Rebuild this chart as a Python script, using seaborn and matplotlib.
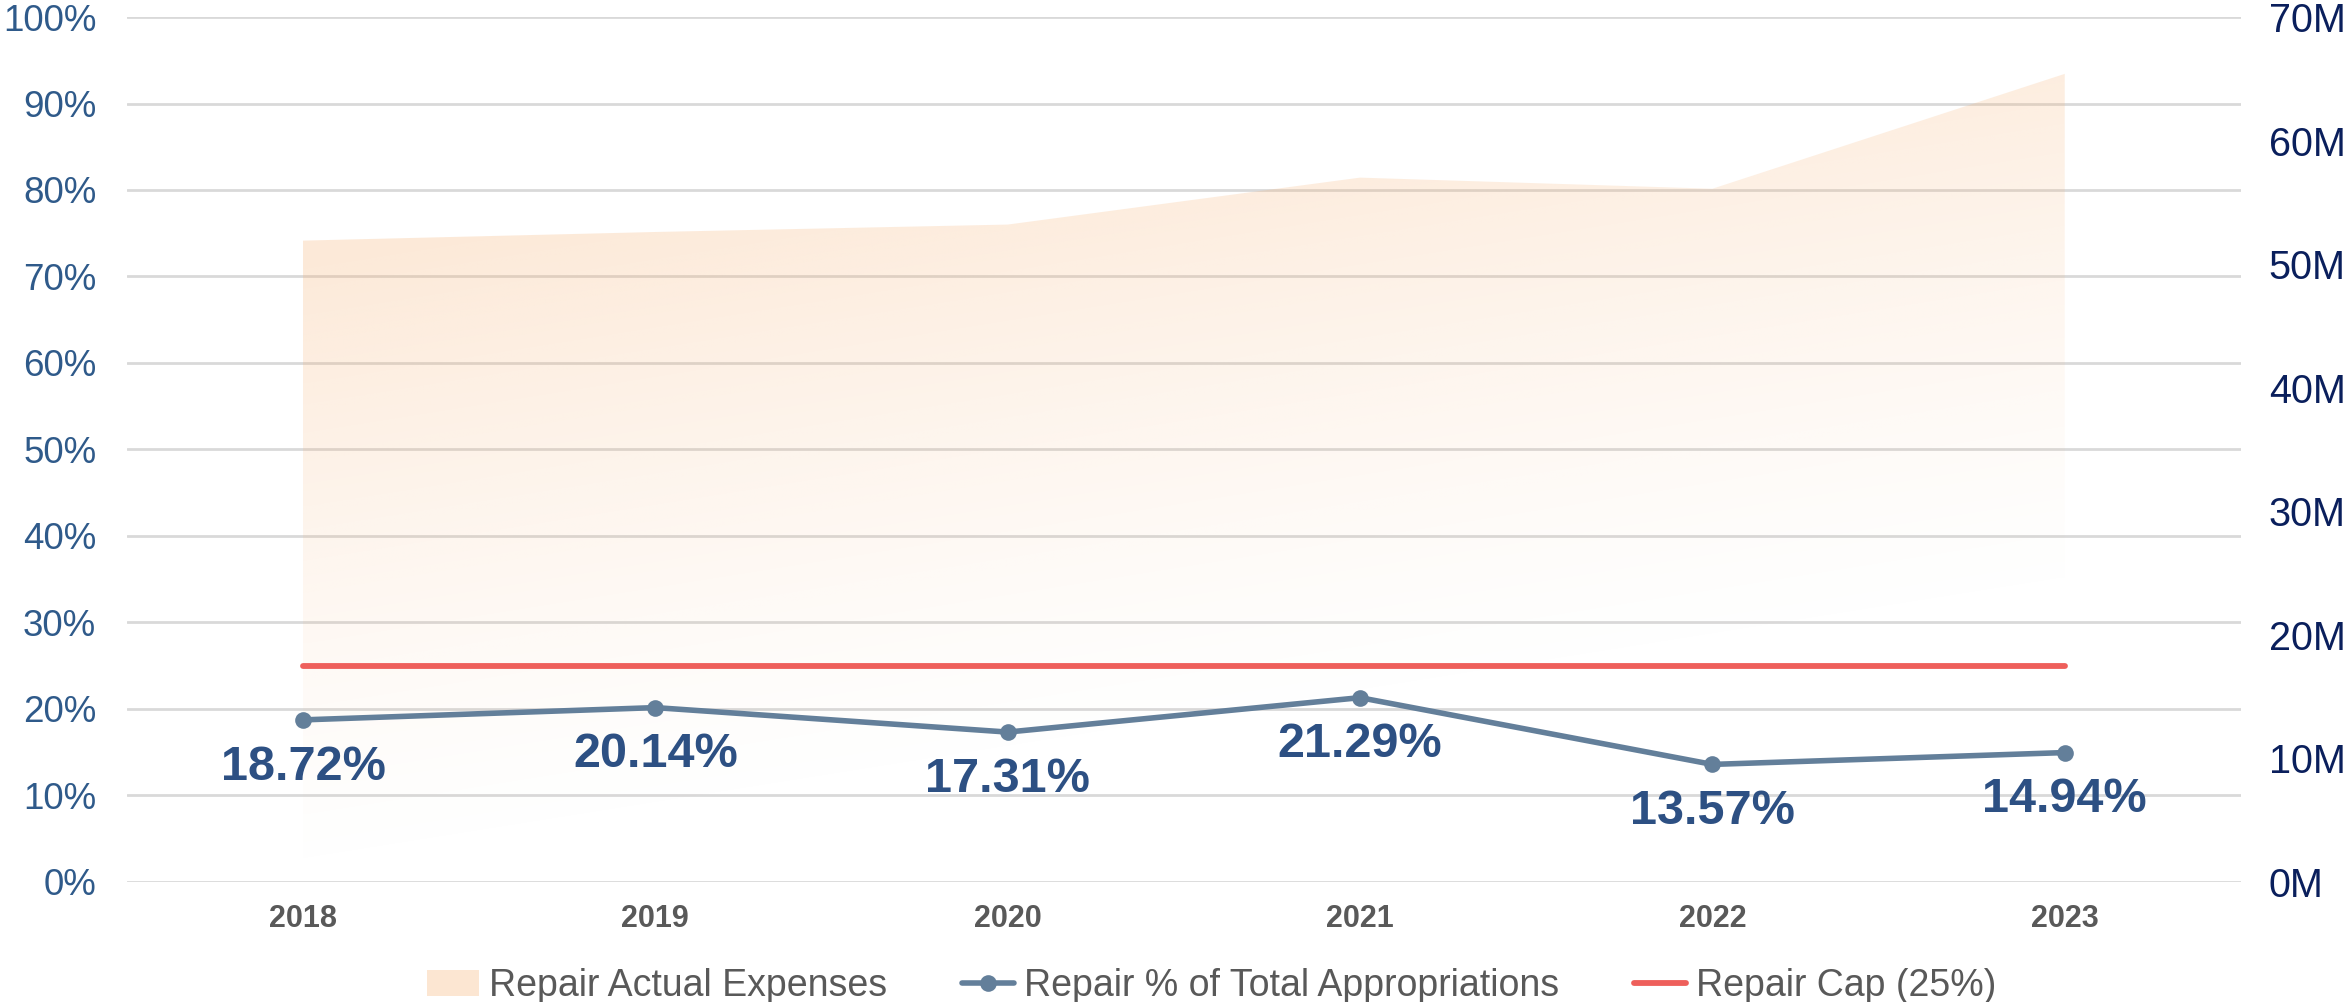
"""Repair expenses vs. share of total appropriations, 2018-2023."""

import numpy as np
import matplotlib.pyplot as plt
from matplotlib.lines import Line2D
from matplotlib.patches import Patch
import seaborn as sns

# data
years = [2018, 2019, 2020, 2021, 2022, 2023]
repair_expenses_m = [51.9, 52.6, 53.2, 57.0, 56.1, 65.4]
repair_pct = [18.72, 20.14, 17.31, 21.29, 13.57, 14.94]
repair_cap_pct = [25, 25, 25, 25, 25, 25]
pct_ticks = [0, 10, 20, 30, 40, 50, 60, 70, 80, 90, 100]
m_ticks = [0, 10, 20, 30, 40, 50, 60, 70]

sns.set_theme(style="white")
plt.rcParams['font.family'] = ['Liberation Sans', 'DejaVu Sans']

fig = plt.figure(figsize=(23.48, 10.02), dpi=100)
fig.subplots_adjust(left=0.054, right=0.9544, top=0.983, bottom=0.120)
ax = fig.add_subplot(111)          # grid + left labels
ax2 = ax.twinx()                   # expenses area (M)
ax3 = ax2.twinx()                  # percentage lines on top
ax2.yaxis.tick_right()
ax2.yaxis.set_label_position('right')

xlim = (2017.5, 2023.5)

# left axis: grid and percent labels
ax.set_xlim(*xlim)
ax.set_ylim(0, 100)
ax.set_yticks(pct_ticks)
ax.set_yticklabels([f"{t}%" for t in pct_ticks])
ax.tick_params(axis='y', colors='#2F5A8A', labelsize=26.5, length=0, pad=22)
ax.tick_params(axis='x', colors='#595959', labelsize=22, length=0, pad=16)
ax.set_xticks(years)
ax.set_xticklabels([str(y) for y in years], fontweight='bold')
ax.grid(axis='y', color='#D9D9D9', linewidth=2)
ax.grid(axis='x', visible=False)

# right axis: gradient area
ax2.set_ylim(0, 70)
ax2.set_xlim(*xlim)
poly = ax2.fill_between(years, repair_expenses_m, color='none', linewidth=0)
gx, gy = np.meshgrid(np.linspace(0, 1, 300), np.linspace(0, 1, 300))
strength = np.clip((gy * 70 / 65 - 0.35 * gx) / 0.78, 0, 1) ** 1.3
grad = np.zeros((300, 300, 4))
grad[..., 0] = 247 / 255
grad[..., 1] = 180 / 255
grad[..., 2] = 120 / 255
grad[..., 3] = 0.29 * strength
img = ax2.imshow(grad, extent=[2018, 2023, 0, 70], origin='lower',
                 aspect='auto', zorder=1, interpolation='bilinear')
img.set_clip_path(poly.get_paths()[0], transform=ax2.transData)
ax2.set_xlim(*xlim)
ax2.set_ylim(0, 70)
ax2.set_yticks(m_ticks)
ax2.set_yticklabels([f"{t}M" for t in m_ticks])
ax2.tick_params(axis='y', colors='#0A1F5C', labelsize=28.5, length=0, pad=20,
                labelleft=False, labelright=True)
ax2.grid(False)

# top axes: percent line, cap, labels
ax3.set_ylim(0, 100)
ax3.set_xlim(*xlim)
sns.lineplot(x=years, y=repair_cap_pct, ax=ax3, color='#EE5F5B',
             linewidth=4.2, solid_capstyle='round', zorder=3)
sns.lineplot(x=years, y=repair_pct, ax=ax3, color='#637F9A', linewidth=4,
             marker='o', markersize=12, markeredgewidth=0, zorder=4)
for x, v in zip(years, repair_pct):
    ax3.annotate(f"{v:.2f}%", (x, v), xytext=(0, -34), textcoords='offset points',
                 ha='center', va='center', fontsize=35, fontweight='bold',
                 color='#2D5083', zorder=5)
ax3.set_yticks([])
ax3.grid(False)
ax3.set_xlim(*xlim)

for a in (ax, ax2, ax3):
    for s in a.spines.values():
        s.set_visible(False)

handles = [
    Patch(facecolor='#FCE6D2', edgecolor='none'),
    Line2D([], [], color='#637F9A', linewidth=4, marker='o', markersize=12,
           markeredgewidth=0),
    Line2D([], [], color='#EE5F5B', linewidth=4.2),
]
labels = ['Repair Actual Expenses', 'Repair % of Total Appropriations',
          'Repair Cap (25%)']
leg = fig.legend(handles, labels, loc='center', bbox_to_anchor=(0.516, 0.016),
                 ncol=3, frameon=False, fontsize=27, handlelength=1.4,
                 handletextpad=0.25, columnspacing=2.0)
for t in leg.get_texts():
    t.set_color('#595959')

fig.savefig('out.png', dpi=100)
